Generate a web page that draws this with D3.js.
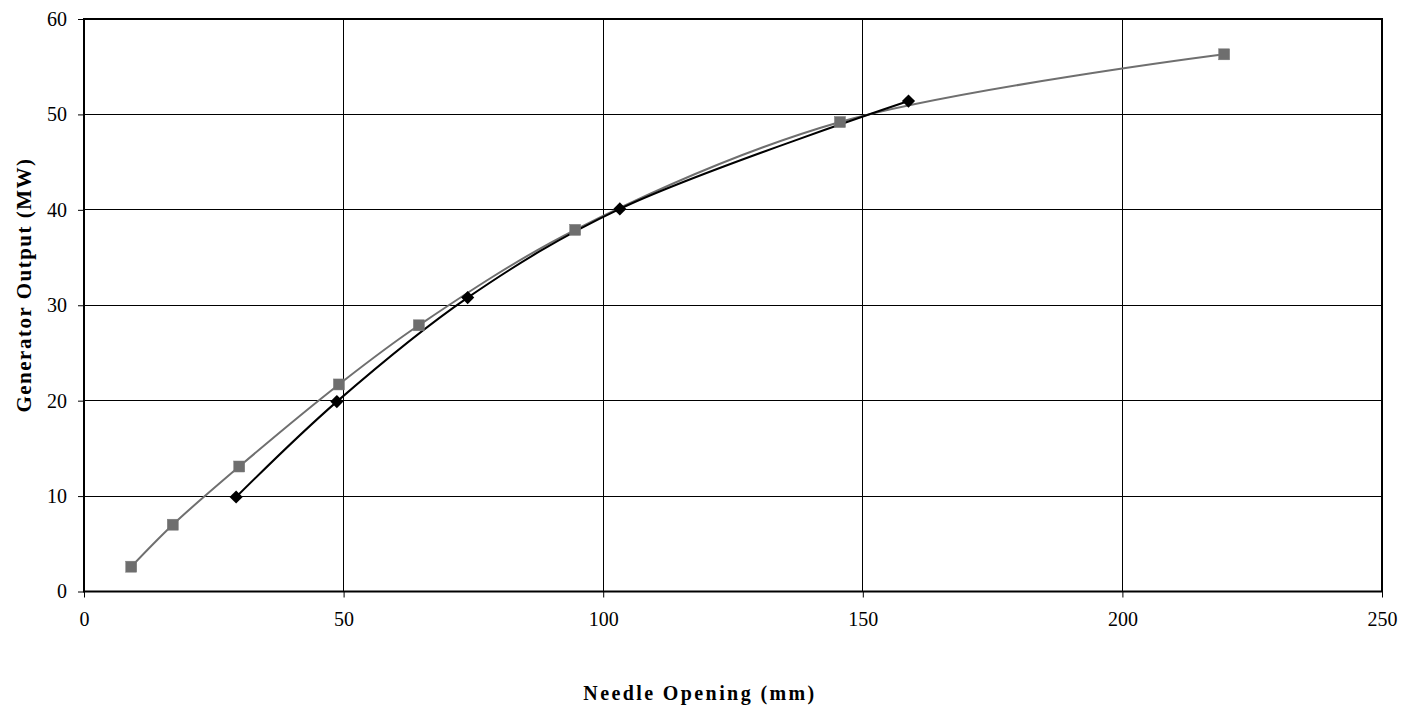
<!DOCTYPE html>
<html>
<head>
<meta charset="utf-8">
<script src="https://cdn.jsdelivr.net/npm/d3@7"></script>
<style>
  html, body { margin: 0; padding: 0; background: #fff; }
  svg { display: block; }
</style>
</head>
<body>
<svg id="chart" width="1406" height="710"></svg>
<script>
// Needle opening (mm) vs generator output (MW), two test series
const squareOpening = [9.1, 17.1, 29.9, 49.1, 64.5, 94.6, 145.6, 219.6];
const squareOutput  = [2.6, 7.0, 13.1, 21.7, 27.9, 37.9, 49.2, 56.3];
const diamondOpening = [29.3, 48.7, 73.9, 103.2, 158.8];
const diamondOutput  = [9.9, 19.9, 30.8, 40.1, 51.4];

const xTicks = [0, 50, 100, 150, 200, 250];
const yTicks = [0, 10, 20, 30, 40, 50, 60];
const xTitle = "Needle Opening (mm)";
const yTitle = "Generator Output (MW)";

const svg = d3.select("#chart");
const m = { left: 84, right: 1382, top: 19, bottom: 591.5 };

const x = d3.scaleLinear().domain([0, 250]).range([m.left, m.right]);
const y = d3.scaleLinear().domain([0, 60]).range([m.bottom, m.top]);

const font = "'Liberation Serif', 'Times New Roman', serif";

// Gridlines
const grid = svg.append("g").attr("shape-rendering", "crispEdges");
grid.selectAll(".gx").data(xTicks.slice(1, -1)).join("line")
  .attr("x1", d => x(d)).attr("x2", d => x(d))
  .attr("y1", m.top).attr("y2", m.bottom)
  .attr("stroke", "#000").attr("stroke-width", 1);
grid.selectAll(".gy").data(yTicks.slice(1, -1)).join("line")
  .attr("x1", m.left).attr("x2", m.right)
  .attr("y1", d => y(d)).attr("y2", d => y(d))
  .attr("stroke", "#000").attr("stroke-width", 1);

// Axes with outside ticks
const xAxis = svg.append("g")
  .attr("transform", `translate(0,${m.bottom})`)
  .call(d3.axisBottom(x).tickValues(xTicks).tickSize(6).tickPadding(14).tickFormat(d3.format("d")));
const yAxis = svg.append("g")
  .attr("transform", `translate(${m.left},0)`)
  .call(d3.axisLeft(y).tickValues(yTicks).tickSize(6).tickPadding(11).tickFormat(d3.format("d")));
[xAxis, yAxis].forEach(a => {
  a.select(".domain").remove();
  a.selectAll(".tick line").attr("stroke", "#000").attr("stroke-width", 1);
  a.selectAll(".tick text").attr("font-family", font).attr("font-size", 20).attr("fill", "#000");
});

// Plot frame
svg.append("rect")
  .attr("x", m.left).attr("y", m.top)
  .attr("width", m.right - m.left).attr("height", m.bottom - m.top)
  .attr("fill", "none").attr("stroke", "#000").attr("stroke-width", 2);

// Series lines
const sq = squareOpening.map((d, i) => [d, squareOutput[i]]);
const dm = diamondOpening.map((d, i) => [d, diamondOutput[i]]);
const line = d3.line().x(d => x(d[0])).y(d => y(d[1])).curve(d3.curveCatmullRom.alpha(0.5));

svg.append("path").attr("d", line(sq))
  .attr("fill", "none").attr("stroke", "#6f6f6f").attr("stroke-width", 2);
svg.append("path").attr("d", line(dm))
  .attr("fill", "none").attr("stroke", "#000").attr("stroke-width", 2);

// Markers
const s = 11;
svg.selectAll(".sq").data(sq).join("rect")
  .attr("x", d => x(d[0]) - s / 2).attr("y", d => y(d[1]) - s / 2)
  .attr("width", s).attr("height", s)
  .attr("fill", "#6e6e6e").attr("stroke", "#7a7a7a").attr("stroke-width", 0.5);

const diamond = d3.symbol().type(d3.symbolDiamond2).size(110);
svg.selectAll(".dm").data(dm).join("path")
  .attr("d", diamond)
  .attr("transform", d => `translate(${x(d[0])},${y(d[1])})`)
  .attr("fill", "#000");

// Axis titles
svg.append("text")
  .attr("x", (m.left + m.right) / 2 - 33).attr("y", 700)
  .attr("text-anchor", "middle")
  .attr("font-family", font).attr("font-size", 20).attr("font-weight", "bold")
  .attr("letter-spacing", 2.4)
  .text(xTitle);

svg.append("text")
  .attr("transform", `translate(31,285) rotate(-90)`)
  .attr("text-anchor", "middle")
  .attr("font-family", font).attr("font-size", 21).attr("font-weight", "bold")
  .attr("letter-spacing", 1.5)
  .text(yTitle);
</script>
</body>
</html>
